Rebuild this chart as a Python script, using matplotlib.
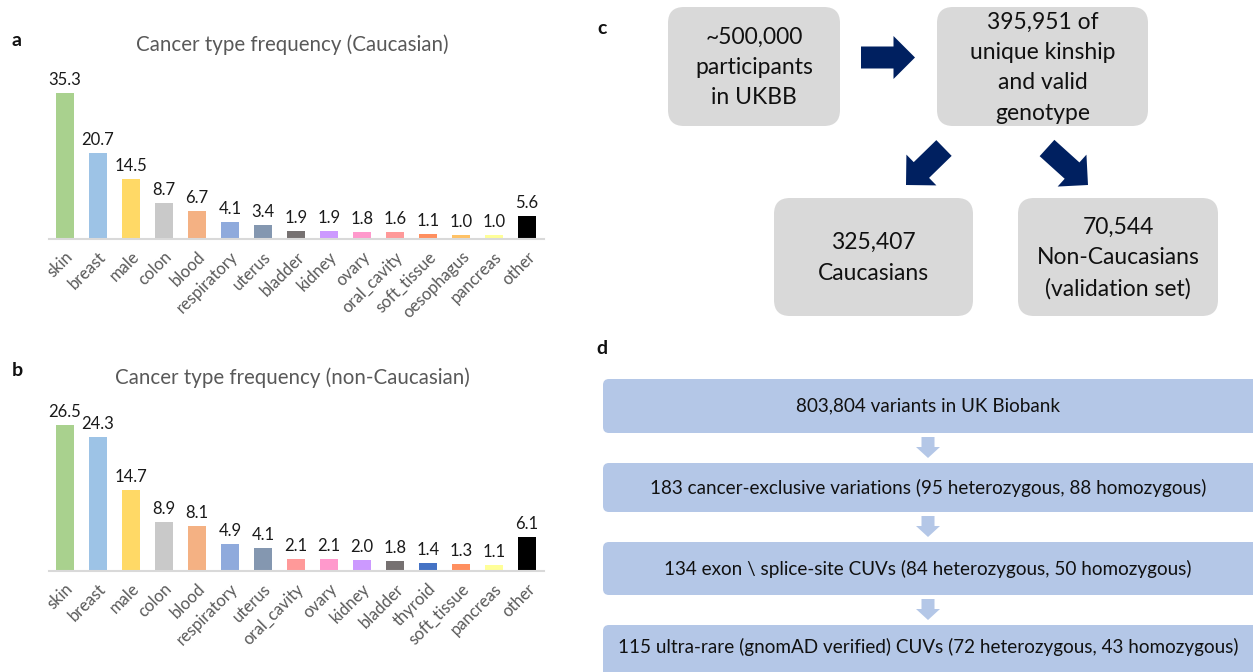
import matplotlib
matplotlib.use('Agg')
import matplotlib.pyplot as plt
from matplotlib.patches import FancyBboxPatch, FancyArrow

plt.rcParams['font.family'] = ['Lato', 'DejaVu Sans']

# Cancer type frequencies (%), Caucasian cohort
cauc_types = ['skin', 'breast', 'male', 'colon', 'blood', 'respiratory', 'uterus',
              'bladder', 'kidney', 'ovary', 'oral_cavity', 'soft_tissue',
              'oesophagus', 'pancreas', 'other']
cauc_freq = [35.3, 20.7, 14.5, 8.7, 6.7, 4.1, 3.4, 1.9, 1.9, 1.8, 1.6, 1.1, 1.0, 1.0, 5.6]

# Cancer type frequencies (%), non-Caucasian cohort
noncauc_types = ['skin', 'breast', 'male', 'colon', 'blood', 'respiratory', 'uterus',
                 'oral_cavity', 'ovary', 'kidney', 'bladder', 'thyroid', 'soft_tissue',
                 'pancreas', 'other']
noncauc_freq = [26.5, 24.3, 14.7, 8.9, 8.1, 4.9, 4.1, 2.1, 2.1, 2.0, 1.8, 1.4, 1.3, 1.1, 6.1]

type_colors = {
    'skin': '#a9d18e', 'breast': '#9dc3e6', 'male': '#ffd966', 'colon': '#c9c9c9',
    'blood': '#f4b183', 'respiratory': '#8faadc', 'uterus': '#8497b0',
    'bladder': '#767171', 'kidney': '#cc99ff', 'ovary': '#ff99cc',
    'oral_cavity': '#ff9999', 'soft_tissue': '#ff8f5f', 'oesophagus': '#ffc266',
    'pancreas': '#ffff99', 'thyroid': '#4472c4', 'other': '#000000',
}

# Cohort flow (panel c) and variant filtering steps (panel d)
cohort_steps = ['~500,000\nparticipants\nin UKBB',
                '395,951 of\nunique kinship\nand valid\ngenotype',
                '325,407\nCaucasians',
                '70,544\nNon-Caucasians\n(validation set)']
variant_steps = ['803,804 variants in UK Biobank',
                 '183 cancer-exclusive variations (95 heterozygous, 88 homozygous)',
                 '134 exon \\ splice-site CUVs (84 heterozygous, 50 homozygous)',
                 '115 ultra-rare (gnomAD verified) CUVs (72 heterozygous, 43 homozygous)']

W, H = 1253, 672
fig = plt.figure(figsize=(W / 100, H / 100), dpi=100)

# full-figure canvas in pixel units for the diagrams and panel letters
canvas = fig.add_axes([0, 0, 1, 1])
canvas.set_xlim(0, W)
canvas.set_ylim(H, 0)
canvas.axis('off')


def bar_panel(left, baseline, width, height, types, freqs, ymax, title):
    ax = fig.add_axes([left / W, (H - baseline) / H, width / W, height / H])
    x = range(len(types))
    ax.bar(x, freqs, width=0.52, color=[type_colors[t] for t in types])
    for xi, v in zip(x, freqs):
        ax.text(xi, v + ymax * 0.03, f'{v:.1f}', ha='center', va='bottom',
                fontsize=12, color='#1a1a1a')
    ax.set_xlim(-0.5, len(types) - 0.5)
    ax.set_ylim(0, ymax)
    ax.set_xticks(list(x))
    ax.set_xticklabels(types, rotation=45, ha='right', rotation_mode='anchor',
                       fontsize=12, color='#595959')
    ax.tick_params(axis='x', length=0, pad=7)
    ax.set_yticks([])
    for s in ['top', 'right', 'left']:
        ax.spines[s].set_visible(False)
    ax.spines['bottom'].set_color('#d9d9d9')
    ax.spines['bottom'].set_linewidth(1.5)
    ax.patch.set_alpha(0)
    canvas.text(left + width / 2 - 4, baseline - height - 28, title, ha='center',
                va='center', fontsize=14.8, color='#595959')
    return ax


bar_panel(48.5, 239, 495, 165.8, cauc_types, cauc_freq, 40,
          'Cancer type frequency (Caucasian)')
bar_panel(48.5, 571, 495, 165.6, noncauc_types, noncauc_freq, 30,
          'Cancer type frequency (non-Caucasian)')

# panel letters
for letter, (lx, ly) in zip('abcd', [(17, 40), (17, 370), (602, 28), (602, 349)]):
    canvas.text(lx, ly, letter, fontsize=14, fontweight='bold', ha='center',
                va='center', color='#111111')

# panel c: cohort boxes (x0, y0, x1, y1)
cohort_boxes = [(668, 7, 840, 126), (937, 7, 1148, 126),
                (774, 198, 973, 316), (1018, 198, 1218, 316)]
for (x0, y0, x1, y1), label in zip(cohort_boxes, cohort_steps):
    canvas.add_patch(FancyBboxPatch((x0, y0), x1 - x0, y1 - y0,
                                    boxstyle='round,pad=0,rounding_size=16',
                                    fc='#d9d9d9', ec='none'))
    canvas.text((x0 + x1) / 2, (y0 + y1) / 2 + 1, label, ha='center', va='center',
                fontsize=16.5, linespacing=1.55, color='#111111')

navy = '#002060'
for (tx, ty, hx, hy) in [(861, 57.5, 915, 57.5), (944, 148, 906, 185),
                         (1047, 148, 1088, 185)]:
    canvas.add_patch(FancyArrow(tx, ty, hx - tx, hy - ty, width=22, head_width=43,
                                head_length=21.5, length_includes_head=True,
                                fc=navy, ec='none'))

# panel d: filtering steps
blue = '#b4c7e7'
step_boxes = [(379, 433), (463, 512), (542, 595), (625, 679)]
for (y0, y1), label in zip(step_boxes, variant_steps):
    canvas.add_patch(FancyBboxPatch((603, y0), 660, y1 - y0,
                                    boxstyle='round,pad=0,rounding_size=6',
                                    fc=blue, ec='none', clip_on=True))
    canvas.text(928, (y0 + min(y1, 672)) / 2 - (2 if y1 > 672 else 0), label,
                ha='center', va='center', fontsize=13.6, color='#111111')

for (ya, yb) in [(437, 458), (516, 537), (599, 620)]:
    canvas.add_patch(FancyArrow(928, ya, 0, yb - ya, width=13, head_width=24,
                                head_length=11, length_includes_head=True,
                                fc=blue, ec='none'))

fig.savefig('out.png', dpi=100, facecolor='white')
